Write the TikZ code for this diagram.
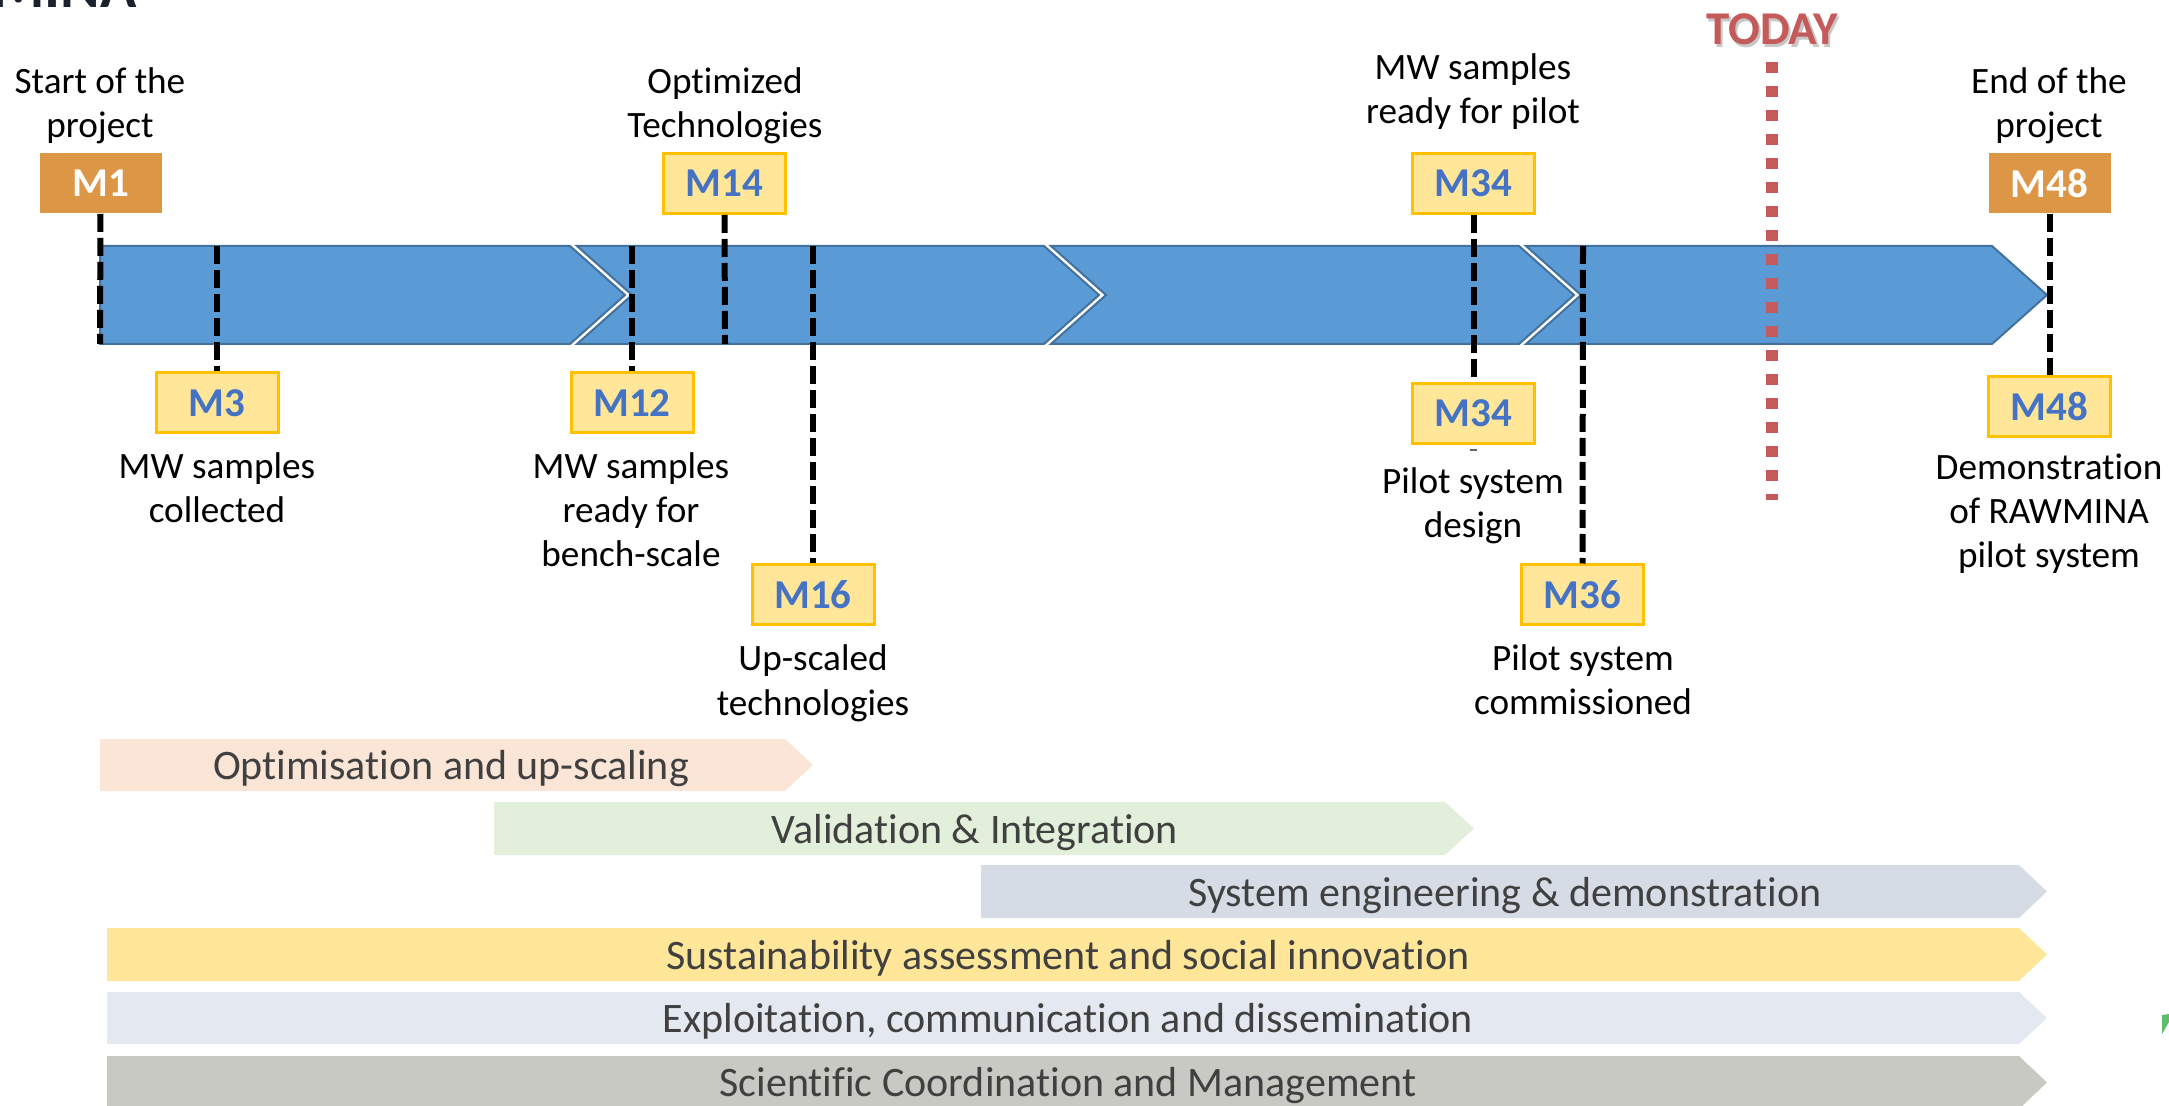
\documentclass[tikz,border=0pt]{standalone}
\usepackage{fontspec}
\setmainfont{Carlito}[Ligatures=NoCommon]
\definecolor{arrowFill}{RGB}{91,155,213}
\definecolor{arrowLine}{RGB}{65,113,156}
\definecolor{msFill}{RGB}{255,230,153}
\definecolor{msLine}{RGB}{255,192,0}
\definecolor{msText}{RGB}{68,114,196}
\definecolor{msOrange}{RGB}{221,149,70}
\definecolor{todayRed}{RGB}{197,90,90}
\definecolor{barText}{RGB}{64,64,64}
\definecolor{titleInk}{RGB}{26,34,46}
\definecolor{wpOne}{RGB}{251,229,214}
\definecolor{wpTwo}{RGB}{226,239,218}
\definecolor{wpThree}{RGB}{214,220,229}
\definecolor{wpFour}{RGB}{255,230,153}
\definecolor{wpFive}{RGB}{228,233,241}
\definecolor{wpSix}{RGB}{201,201,196}
\definecolor{logoGreen}{RGB}{92,190,106}
\begin{document}
\begin{tikzpicture}[x=0.5pt,y=-0.5pt,
  lbl/.style={font=\fontsize{18.6}{22}\selectfont, align=center, anchor=base, inner sep=0pt},
  msbox/.style={minimum width=61pt, minimum height=30pt, inner sep=0pt,
    font=\fontsize{20.5}{24}\selectfont\bfseries},
  msyellow/.style={msbox, fill=msFill, draw=msLine, line width=1.5pt, text=msText},
  msorange/.style={msbox, fill=msOrange, text=white},
  msline/.style={black, line width=3pt, dash pattern=on 9pt off 3pt},
  segment/.style={fill=arrowFill, draw=arrowLine, line width=1pt, line join=miter},
  wptext/.style={font=\fontsize{21}{25}\selectfont, text=barText, anchor=base, inner sep=0pt},
  todaytext/.style={font=\fontsize{23.5}{28}\selectfont\bfseries, anchor=base, inner sep=0pt}]
\useasboundingbox (0,0) rectangle (2169,1106);
\clip (0,0) rectangle (2169,1106);

% title, cut by the top edge
\node[font=\fontsize{30}{36}\selectfont\bfseries, text=titleInk, anchor=base east, inner sep=0pt] (title) at (137,8) {MINA};

% main timeline: four chevron segments
\path[segment] (100,246) -- (570,246) -- (625,295) -- (570,344) -- (100,344) -- cycle;
\path[segment] (577,246) -- (1044,246) -- (1099,295) -- (1044,344) -- (577,344) -- (632,295) -- cycle;
\path[segment] (1051,246) -- (1519,246) -- (1574,295) -- (1519,344) -- (1051,344) -- (1106,295) -- cycle;
\path[segment] (1526,246) -- (1992,246) -- (2047,295) -- (1992,344) -- (1526,344) -- (1581,295) -- cycle;

% today marker
\draw[todayRed, line width=6pt, dash pattern=on 5.5pt off 6.5pt] (1772,62) -- (1772,500);
\node[todaytext, text=black!40, opacity=0.55] (todayshadow) at (1774.5,47.5) {TODAY};
\node[todaytext, text=todayRed] (today) at (1772,45) {TODAY};

% milestone boxes
\node[msorange] (m1) at (100.5,183.5) {M1};
\node[msyellow] (m14) at (724.5,183.5) {M14};
\node[msyellow] (m34t) at (1473.5,183.5) {M34};
\node[msorange] (m48t) at (2049.5,183.5) {M48};
\node[msyellow] (m3) at (217,403) {M3};
\node[msyellow] (m12) at (632,403) {M12};
\node[msyellow] (m34b) at (1473.5,413.5) {M34};
\node[msyellow] (m48b) at (2049.5,406.5) {M48};
\node[msyellow] (m16) at (813,594.5) {M16};
\node[msyellow] (m36) at (1582.5,595) {M36};

% points on the timeline edges
\coordinate (e1) at (100,344);
\coordinate (e3) at (217,246);
\coordinate (e12) at (632,246);
\coordinate (e14) at (725,344);
\coordinate (e16) at (813,246);
\coordinate (e36) at (1583,246);

% milestone connectors
\draw[msline] (m1.south) -- (e1);
\draw[msline] (e3) -- (m3.north);
\draw[msline] (e12) -- (m12.north);
\draw[msline] (m14.south) -- (e14);
\draw[msline] (e16) -- (m16.north);
\draw[msline] (m34t.south) -- (m34b.north);
\draw[msline] (e36) -- (m36.north);
\draw[msline] (m48t.south) -- (m48b.north);
\draw[black!60, line width=0.6pt] (1470,450) -- (1477,450);

% milestone captions (anchored at the baseline of the last line)
\node[lbl] (t1) at (100,138) {Start of the\\project};
\node[lbl] (t14) at (725,138) {Optimized\\Technologies};
\node[lbl] (t34t) at (1473,124) {MW samples\\ready for pilot};
\node[lbl] (t48t) at (2049,138) {End of the\\project};
\node[lbl] (t3) at (217,523) {MW samples\\collected};
\node[lbl] (t12) at (631,567) {MW samples\\ready for\\bench-scale};
\node[lbl] (t16) at (813,715) {Up-scaled\\technologies};
\node[lbl] (t34b) at (1473,538) {Pilot system\\design};
\node[lbl] (t36) at (1583,714) {Pilot system\\commissioned};
\node[lbl] (t48b) at (2049,568) {Demonstration\\of RAWMINA\\pilot system};

% work package bars
\fill[wpOne] (100,739) -- (785,739) -- (813,765) -- (785,791) -- (100,791) -- cycle;
\fill[wpTwo] (494,802) -- (1445,802) -- (1474,828.5) -- (1445,855) -- (494,855) -- cycle;
\fill[wpThree] (981,865) -- (2019,865) -- (2047,891.5) -- (2019,918) -- (981,918) -- cycle;
\fill[wpFour] (107,928) -- (2019,928) -- (2047,954.5) -- (2019,981) -- (107,981) -- cycle;
\fill[wpFive] (107,992) -- (2019,992) -- (2047,1018) -- (2019,1044) -- (107,1044) -- cycle;
\fill[wpSix] (107,1056) -- (2019,1056) -- (2047,1082.5) -- (2019,1109) -- (107,1109) -- cycle;

\node[wptext] (wp1) at (451,779) {Optimisation and up-scaling};
\node[wptext] (wp2) at (975,843) {Validation \& Integration};
\node[wptext] (wp3) at (1505,906) {System engineering \& demonstration};
\node[wptext] (wp4) at (1068,969) {Sustainability assessment and social innovation};
\node[wptext] (wp5) at (1068,1032) {Exploitation, communication and dissemination};
\node[wptext] (wp6) at (1068,1096) {Scientific Coordination and Management};

% logo fragment at the right edge
\fill[logoGreen] (2162,1015) -- (2169,1014) -- (2169,1022) -- (2162,1034) -- cycle;
\end{tikzpicture}
\end{document}
